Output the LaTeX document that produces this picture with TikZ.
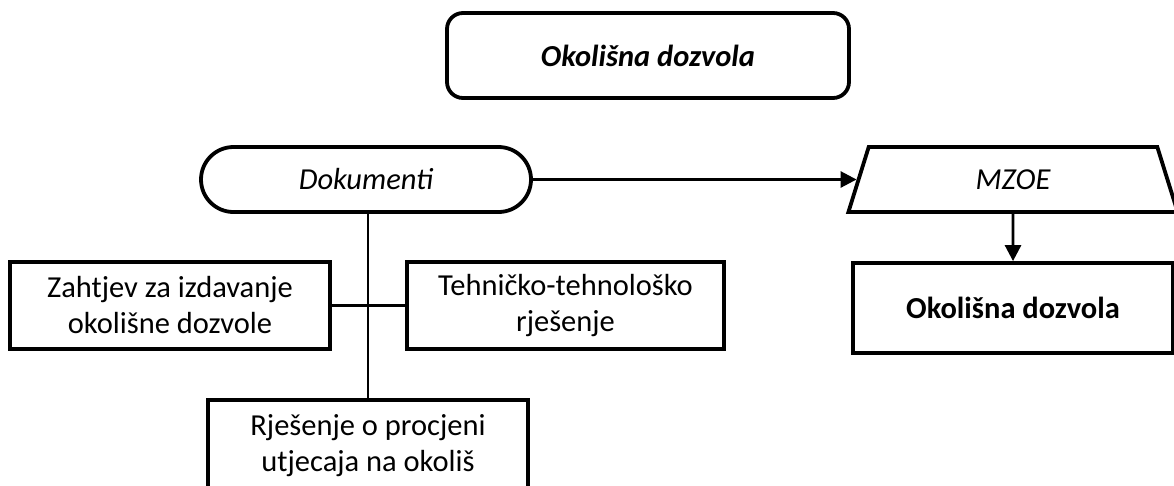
\documentclass[tikz,border=0pt]{standalone}
\usepackage{fontspec}
\setmainfont{Carlito}
\usetikzlibrary{shapes.geometric,shapes.misc,arrows.meta}
\tikzset{
  box/.style={draw, line width=3.8pt, fill=white, align=center, inner sep=2pt,
    font=\fontsize{30.5}{36}\selectfont},
  conn/.style={line width=2.8pt},
  arr/.style={conn, -{Triangle[length=16pt,width=16pt]}},
}
\begin{document}
\begin{tikzpicture}[x=1pt,y=-1pt]
\useasboundingbox (0,0) rectangle (1174,485);
\node[box, rounded corners=16pt, minimum width=402pt, minimum height=85pt,
  font=\fontsize{30.5}{36}\selectfont\bfseries\itshape] (top) at (648,55.5) {Okolišna dozvola};
\node[box, rounded rectangle, minimum width=334pt, minimum height=65pt,
  font=\fontsize{30.5}{36}\selectfont\itshape] (dok) at (366,179.5) {Dokumenti};
\node[box, trapezium, trapezium left angle=77, trapezium right angle=77,
  trapezium stretches=true, minimum width=330pt, minimum height=65pt,
  font=\fontsize{30.5}{36}\selectfont\itshape] (mzoe) at (1013,179.5) {MZOE};
\node[box, minimum width=320pt, minimum height=90pt,
  font=\fontsize{30.5}{36}\selectfont\bfseries] (okd) at (1013,308) {Okolišna dozvola};
\node[box, minimum width=320pt, minimum height=87pt] (zah) at (170,305.5) {Zahtjev za izdavanje\\okolišne dozvole};
\node[box, minimum width=317pt, minimum height=87pt] (teh) at (565.5,305.5) {Tehničko-tehnološko\\rješenje};
\node[box, minimum width=320pt, minimum height=92pt] (rje) at (368,446) {Rješenje o procjeni\\utjecaja na okoliš};
\draw[arr] (dok.east) -- (mzoe.west);
\draw[arr] (mzoe.south) -- (okd.north);
\draw[conn] (rje.north |- dok.south) -- (rje.north);
\draw[conn] (zah.east) -- (teh.west);
\end{tikzpicture}
\end{document}
